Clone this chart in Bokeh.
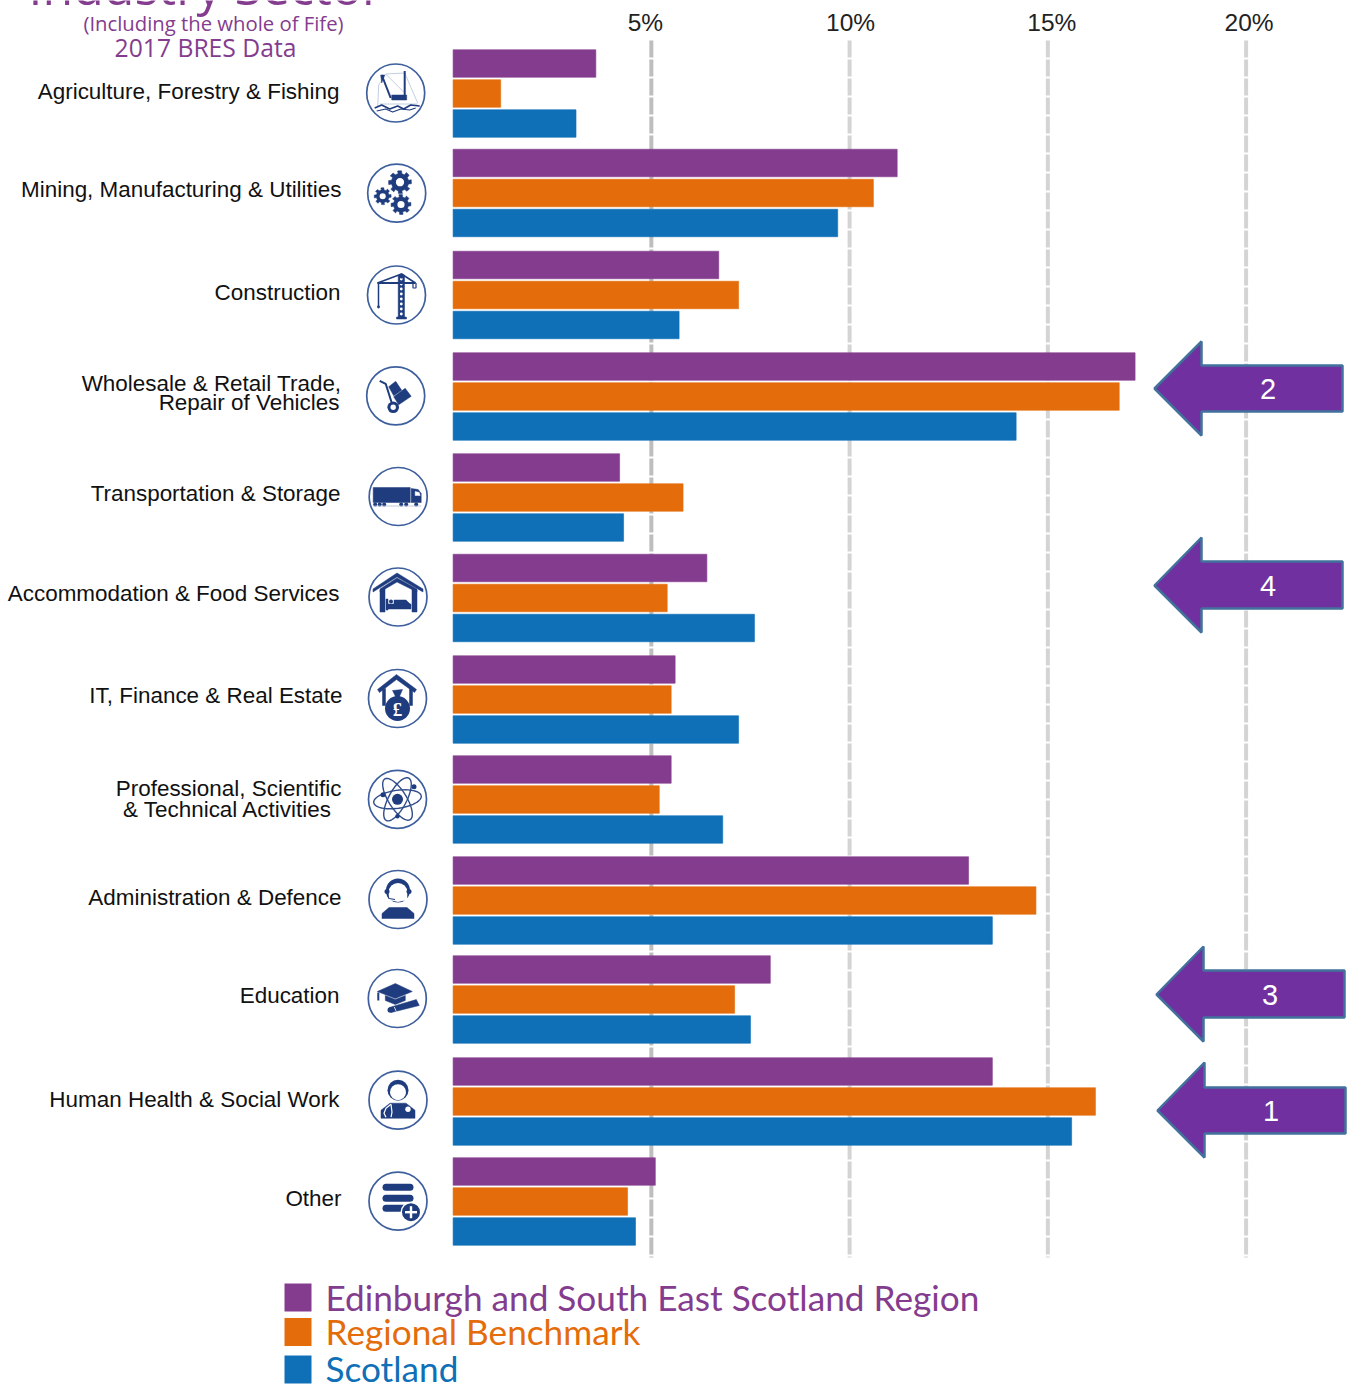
import math
from bokeh.plotting import figure
from bokeh.models import Range1d
from bokeh.core.properties import value
from bokeh.embed import file_html
from bokeh.resources import INLINE

# ---------- data ----------
CATEGORIES = ["Agriculture, Forestry & Fishing", "Mining, Manufacturing & Utilities", "Construction",
              "Wholesale & Retail Trade, Repair of Vehicles", "Transportation & Storage",
              "Accommodation & Food Services", "IT, Finance & Real Estate",
              "Professional, Scientific & Technical Activities", "Administration & Defence",
              "Education", "Human Health & Social Work", "Other"]
EDINBURGH = [3.6, 11.2, 6.7, 17.2, 4.2, 6.4, 5.6, 5.5, 13.0, 8.0, 13.6, 5.1]
BENCHMARK = [1.2, 10.6, 7.2, 16.8, 5.8, 5.4, 5.5, 5.2, 14.7, 7.1, 16.2, 4.4]
SCOTLAND = [3.1, 9.7, 5.7, 14.2, 4.3, 7.6, 7.2, 6.8, 13.6, 7.5, 15.6, 4.6]
TICKS = [5, 10, 15, 20]
TICK_LABELS = ["5%", "10%", "15%", "20%"]
RANKS = ["2", "4", "3", "1"]
SERIES_NAMES = ["Edinburgh and South East Scotland Region", "Regional Benchmark", "Scotland"]
TITLE = "Industry Sector"
SUB1 = "(Including the whole of Fife)"
SUB2 = "2017 BRES Data"

# ---------- layout (page pixels) ----------
PURPLE, ORANGE, BLUE = "#843C8E", "#E46C0A", "#0F6FB7"
NAVY = "#1F3C7E"
ROW_Y = [93, 192.5, 294.5, 396, 497, 597.5, 699, 799, 900, 999, 1101, 1201]
ICON_X = [395.2, 396.2, 396, 395.2, 397.7, 397.5, 397, 397, 397.5, 396.8, 397.5, 397.5]
ICON_Y = [92.5, 192.7, 294.5, 395.3, 496, 596.5, 698, 798.8, 899, 998, 1099.7, 1200.7]
LABEL_LINES = [("Agriculture, Forestry & Fishing", 339, 91), ("Mining, Manufacturing & Utilities", 341, 189),
               ("Construction", 340, 292), ("Wholesale & Retail Trade,", 341, 383), ("Repair of Vehicles", 339, 402),
               ("Transportation & Storage", 340, 493), ("Accommodation & Food Services", 339, 593),
               ("IT, Finance & Real Estate", 342, 695), ("Professional, Scientific", 341, 788),
               ("& Technical Activities", 332, 809), ("Administration & Defence", 341, 897),
               ("Education", 339, 995), ("Human Health & Social Work", 339, 1099), ("Other", 341, 1198)]

W, H = 1351, 1385
X0, PX_PER_PCT = 452.6, 39.65
p = figure(width=W, height=H, output_backend="svg", toolbar_location=None,
           x_range=Range1d((0 - X0) / PX_PER_PCT, (W - X0) / PX_PER_PCT),
           y_range=Range1d(H, 0), min_border=0, outline_line_color=None,
           x_axis_location=None, y_axis_location=None)
p.grid.visible = False
p.extra_x_ranges = {"px": Range1d(0, W)}
PX = dict(x_range_name="px")

# gridlines
p.segment(x0=TICKS, x1=TICKS, y0=[40] * 4, y1=[1257] * 4, line_color=["#BEBEBE", "#D4D4D4", "#D4D4D4", "#D4D4D4"],
          line_width=4, line_dash="17 2")
p.text(x=TICKS, y=[22] * 4, text=TICK_LABELS, x_offset=[-6, 1, 4, 3], text_align="center", text_baseline="middle",
       text_font=value("Liberation Sans"), text_font_size="24.5px", text_color="#222222")

# bars
for vals, col, off in ((EDINBURGH, PURPLE, -30), (BENCHMARK, ORANGE, 0), (SCOTLAND, BLUE, 30)):
    p.hbar(y=[r + off for r in ROW_Y], left=0, right=vals, height=27.5, fill_color=col, line_color=col, line_width=1, line_alpha=0.6)

# category labels
p.text(x=[l[1] for l in LABEL_LINES], y=[l[2] for l in LABEL_LINES], text=[l[0] for l in LABEL_LINES],
       text_align="right", text_baseline="middle", text_font=value("Liberation Sans"), text_font_size="22.45px",
       text_color="#111111", **PX)

# titles
for t, yy, fs, xx in ((TITLE, -15, "50px", 205), (SUB1, 22, "20.3px", 213), (SUB2, 46.5, "24.7px", 205)):
    p.text(x=[xx], y=[yy], text=[t], text_align="center",
           text_baseline="alphabetic" if t == TITLE else "middle",
           text_font=value("Open Sans"), text_font_size=fs, text_color=PURPLE, **PX)

# icon circles
p.circle(x=ICON_X, y=ICON_Y, radius=29, fill_color="white", line_color="#3E5F9E", line_width=1.7, **PX)

# ----- icon drawing helpers (pictograms only, coordinates relative to icon centre) -----
def poly(c, pts, color=NAVY):
    p.patch([c[0] + a for a, b in pts], [c[1] + b for a, b in pts], fill_color=color, line_color=color, line_width=0.5, **PX)
def line(c, pts, w=1.5, color=NAVY, cap="butt"):
    p.line([c[0] + a for a, b in pts], [c[1] + b for a, b in pts], line_color=color, line_width=w, line_cap=cap, **PX)
def disc(c, a, b, r, color=NAVY):
    p.circle(x=[c[0] + a], y=[c[1] + b], radius=r, fill_color=color, line_color=None, **PX)
def gear(c, a, b, r, teeth=8):
    pts = []
    for i in range(teeth):
        t = 2 * math.pi * i / teeth
        dt = math.pi / teeth
        for tt, rr in ((t - dt * .55, r), (t - dt * .35, r * 1.0), (t + dt * .35, r), (t + dt * .55, r * .76), (t + dt * 1.45, r * .76)):
            pts.append((a + rr * math.cos(tt), b + rr * math.sin(tt)))
    poly(c, pts)
    disc(c, a, b, r * .36, "white")
def ellipse(c, a, b, th):
    t = math.radians(th)
    return [(a * math.cos(u) * math.cos(t) - b * math.sin(u) * math.sin(t),
             a * math.cos(u) * math.sin(t) + b * math.sin(u) * math.cos(t))
            for u in [2 * math.pi * i / 48 for i in range(49)]]
C = list(zip(ICON_X, ICON_Y))

# boat
c = C[0]
for seg in ([(-18, 14), (-17, -8), (-10, -19)], [(-10, -19), (9, -20), (22, 10)], [(-16, 11), (22, 11)], [(-10, -19), (9, 0)]):
    line(c, seg, 1, "#C3CFE3")
line(c, [(-14, -18), (-5, 5)], 2)
line(c, [(9, -22), (9, 7)], 2)
poly(c, [(-4, 2), (11, 2), (11, 7), (-4, 7)])
poly(c, [(-11, -18), (-15, -18), (-14, -10)])
line(c, [(-21, 15), (-14, 12), (-6, 16), (2, 13), (8, 16), (15, 12), (24, 13)], 1.6)
line(c, [(-19, 18), (-10, 16), (-3, 19), (5, 16), (14, 17), (20, 15)], 1.2)

# gears
c = C[1]
gear(c, 3.3, -11, 11.5)
gear(c, -14, 3, 8.5)
gear(c, 4.3, 11.3, 10)

# crane
c = C[2]
poly(c, [(1.7, -20), (8, -20), (8, 22), (1.7, 22)])
for yy in range(-16, 20, 5):
    disc(c, 4.8, yy, 1.4, "white")
poly(c, [(0, 22), (10, 22), (10, 24), (0, 24)])
line(c, [(-19, -12), (5, -21), (19, -12)], 1.5)
line(c, [(-19, -12), (19, -12)], 2)
line(c, [(-18, -12), (-18, 12)], 1.5)
disc(c, -18, 12, 1.4)
disc(c, 5, -19, 2.5)
line(c, [(16.5, -12), (16.5, -7), (19.5, -7), (19.5, -12)], 1.2)

# trolley
c = C[3]
line(c, [(-16, -15), (-10, -12), (-4, 7)], 2)
poly(c, [(-7, -9), (0, -14.5), (6, -5.5), (-2, 0)])
poly(c, [(-2, 1), (9.5, -7.5), (15.5, 0.5), (3, 9)])
disc(c, -2.5, 11.5, 5.8)
disc(c, -2.5, 11.5, 2.7, "white")

# truck
c = C[4]
poly(c, [(-25, -9), (12, -9), (12, 6), (-25, 6)])
poly(c, [(13, -8), (20, -7), (23, -3), (23, 6), (13, 6)])
poly(c, [(17, -5), (21, -4), (22, -1), (17, -1)], "white")
for a in (-23, -18.5, -14, 3, 8, 18):
    disc(c, a, 8, 2)
line(c, [(-25, 9.5), (23, 9.5)], 0.8, "#AEBBD6")

# house + bed
c = C[5]
poly(c, [(-25, -8), (-1, -24), (25, -8), (25, -5), (-1, -20), (-25, -5)])
poly(c, [(-18, -8), (-1, -19), (19, -8), (19, -5), (-1, -15), (-18, -5)])
poly(c, [(-18, -7), (-13, -9), (-13, 15), (-18, 15)])
poly(c, [(14, -9), (19, -7), (19, 15), (14, 15)])
poly(c, [(-12, 2), (-10, 2), (-10, 13), (-12, 13)])
poly(c, [(-10, 7), (13, 7), (13, 12), (-10, 12)])
disc(c, -7, 4.5, 2)
poly(c, [(-4, 3), (8, 3), (12, 7), (-4, 7)])

# finance
c = C[6]
poly(c, [(-20, -9), (-1, -24), (19, -9), (17, -6), (-1, -19), (-18, -6)])
poly(c, [(-15, -9), (-12, -10), (-12, 7), (-15, 7)])
poly(c, [(12, -10), (15, -9), (15, 7), (12, 7)])
disc(c, 0, 10, 12.5)
poly(c, [(-5, -8), (5, -9), (2, -2), (5, 1), (-5, 1), (-2, -2)])
p.text(x=[c[0]], y=[c[1] + 11], text=["£"], text_align="center", text_baseline="middle", text_color="white",
       text_font=value("Liberation Serif"), text_font_style="bold", text_font_size="19px", **PX)

# atom
c = C[7]
for th in (-8, 58, 118):
    line(c, ellipse(c, 24, 9, th), 1.4, "#2F4D8A")
disc(c, 0, 0, 5.5)
disc(c, -14.5, -4.5, 2.5)
disc(c, 16.5, -12.5, 2.5)
disc(c, 0, 17, 2.2)

# person with headset
c = C[8]
disc(c, 0, -9, 12)
disc(c, 0, -7, 9.5, "white")
poly(c, [(-9, -5), (-6, -14), (6, -14), (9, -5), (9, 1), (-9, 1)], "white")
disc(c, -11, -8, 2.5)
disc(c, 11, -8, 2.5)
line(c, [(-11, -5), (-9, -1), (-3, 0)], 1.2)
poly(c, [(-16, 19), (-16, 14), (-9, 8), (9, 8), (16, 14), (16, 19)])

# education
c = C[9]
poly(c, [(-20, -7), (-2, -15), (15, -7), (-2, 0)])
poly(c, [(-12, -3), (-2, 1), (8, -3), (8, 2), (-2, 6), (-12, 2)])
line(c, [(-19, -6), (-19, 2)], 2)
poly(c, [(-8, 9), (19, 1), (22, 7), (-6, 14)])
disc(c, -7, 11.5, 2.8)
line(c, [(-3, 8.5), (-1, 13)], 0.8, "white")

# doctor
c = C[10]
disc(c, 0, -10, 10.5)
disc(c, 0, -8, 8, "white")
poly(c, [(-17, 18), (-17, 10), (-8, 3), (8, 3), (17, 10), (17, 18)])
disc(c, -12, 13, 5)
disc(c, 12, 13, 5)
line(c, [(-7, 4), (-12, 8), (-14, 13), (-12, 17)], 1.2, "white")
line(c, [(-7, 17), (-6, 12), (-7, 4)], 1.2, "white")
disc(c, 10, 9, 2.7, "white")

# other
c = C[11]
for yy in (-14, -3, 7):
    line(c, [(-12, yy), (12, yy)], 7, cap="round")
disc(c, 13, 11, 10.5, "white")
disc(c, 13, 11, 9)
line(c, [(7, 11), (19, 11)], 2.4, "white")
line(c, [(13, 5), (13, 17)], 2.4, "white")

# rank arrows
ARROWS = [(1154, 1201, 388, 341, 435, 365, 411, 1342), (1154, 1201, 585, 537, 632, 561, 608, 1342),
          (1156, 1203, 994, 946, 1041, 970, 1017, 1344), (1157, 1204, 1110, 1062, 1157, 1087, 1133, 1345)]
for (tip, hx, ym, ht, hb, st, sb, xr), txt in zip(ARROWS, RANKS):
    p.patch([tip, hx, hx, xr, xr, hx, hx], [ym, ht, st, st, sb, sb, hb], fill_color="#7030A0", line_color="#41719C",
            line_width=2.5, **PX)
    p.text(x=[(hx + xr) / 2 - 4], y=[ym], text=[txt], text_align="center", text_baseline="middle", text_color="white",
           text_font=value("Liberation Sans"), text_font_size="29px", **PX)

# legend
LEG_Y = [1297, 1331.5, 1369]
LEG_TEXT_Y = [1296, 1330, 1367]
for name, col, yy, ty in zip(SERIES_NAMES, (PURPLE, ORANGE, BLUE), LEG_Y, LEG_TEXT_Y):
    p.quad(left=[284], right=[311], top=[yy - 14], bottom=[yy + 14], fill_color=col, line_color=None, **PX)
    p.text(x=[325], y=[ty], text=[name], text_align="left", text_baseline="middle", text_color=col,
           text_font=value("Lato"), text_font_size="35.2px", **PX)

open("out.html", "w").write(file_html(p, INLINE))
